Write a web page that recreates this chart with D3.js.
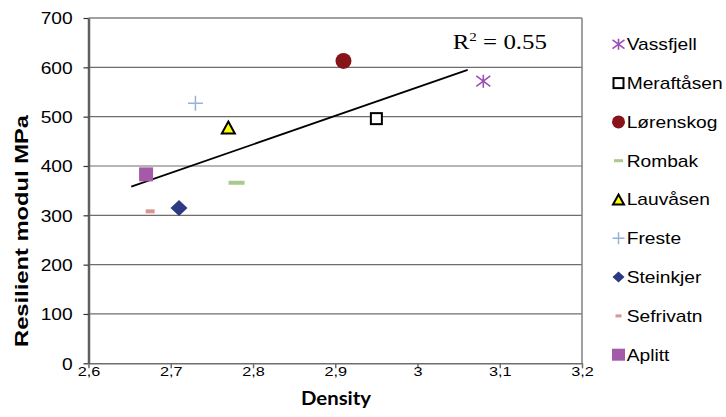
<!DOCTYPE html>
<html>
<head>
<meta charset="utf-8">
<script src="https://cdn.jsdelivr.net/npm/d3@7"></script>
<style>
  body { margin: 0; background: #fff; }
  svg { display: block; }
</style>
</head>
<body>
<svg id="chart" width="726" height="417"></svg>
<script>
// data
const sites = ['Vassfjell', 'Meraftåsen', 'Lørenskog', 'Rombak', 'Lauvåsen', 'Freste', 'Steinkjer', 'Sefrivatn', 'Aplitt']
const density = [3.08, 2.95, 2.91, 2.78, 2.77, 2.73, 2.71, 2.675, 2.67]
const modulus = [572, 496, 613, 366, 478, 527, 315, 308, 383]
const trendDensity = [2.652, 3.061]
const trendModulus = [358, 595]
const rSquared = '0.55'
const xTicks = [2.6, 2.7, 2.8, 2.9, 3.0, 3.1, 3.2]
const yTicks = [0, 100, 200, 300, 400, 500, 600, 700]

// marker look for each site (same order as sites)
const markers = [
  { kind: 'star', stroke: '#9b4fb5', w: 14, h: 13, lw: 12, lh: 11 },
  { kind: 'rect', fill: '#fff', stroke: '#000', w: 11, h: 11, lw: 10, lh: 10 },
  { kind: 'circle', fill: '#861418', w: 16, h: 16, lw: 13, lh: 13 },
  { kind: 'rect', fill: '#a9c98d', w: 16, h: 4, lw: 9, lh: 3 },
  { kind: 'tri', fill: '#ffff00', stroke: '#000', w: 13, h: 12, lw: 11, lh: 10 },
  { kind: 'plus', stroke: '#95b3d7', w: 15, h: 15, lw: 12, lh: 12 },
  { kind: 'diamond', fill: '#2b3a83', w: 17, h: 16, lw: 12, lh: 11 },
  { kind: 'rect', fill: '#d99594', w: 9, h: 4, lw: 6, lh: 3 },
  { kind: 'rect', fill: '#a45aa8', w: 14, h: 14, lw: 13, lh: 12 }
]

const svg = d3.select('#chart')
const margin = { left: 88.5, right: 582, top: 18, bottom: 363.3 }

const x = d3.scaleLinear().domain([2.6, 3.2]).range([margin.left, margin.right])
const y = d3.scaleLinear().domain([0, 700]).range([margin.bottom, margin.top])

const sans = 'Liberation Sans, Arial, sans-serif'

// horizontally stretched text, the picture is wider than tall
function stext (parent, px, py, str, o) {
  return parent.append('text')
    .attr('transform', `translate(${px},${py}) scale(${o.sx || 1.2},1)`)
    .attr('text-anchor', o.anchor || 'start')
    .attr('font-family', o.family || sans)
    .attr('font-size', o.size || 16)
    .attr('font-weight', o.weight || 'normal')
    .attr('fill', '#000')
    .text(str)
}

function drawMarker (g, m, w, h) {
  const sw = w / 2
  const sh = h / 2
  if (m.kind === 'circle') {
    g.append('ellipse').attr('rx', sw).attr('ry', sh).attr('fill', m.fill)
  } else if (m.kind === 'rect') {
    g.append('rect').attr('x', -sw).attr('y', -sh).attr('width', w).attr('height', h)
      .attr('fill', m.fill).attr('stroke', m.stroke || 'none').attr('stroke-width', 2)
  } else if (m.kind === 'tri') {
    g.append('path').attr('d', `M0,${-sh}L${sw},${sh}L${-sw},${sh}Z`)
      .attr('fill', m.fill).attr('stroke', m.stroke).attr('stroke-width', 2).attr('stroke-linejoin', 'miter')
  } else if (m.kind === 'diamond') {
    g.append('path').attr('d', `M0,${-sh}L${sw},0L0,${sh}L${-sw},0Z`).attr('fill', m.fill)
  } else if (m.kind === 'plus') {
    g.append('path').attr('d', `M${-sw},0H${sw}M0,${-sh}V${sh}`)
      .attr('stroke', m.stroke).attr('stroke-width', 1.5).attr('fill', 'none')
  } else if (m.kind === 'star') {
    g.append('path').attr('d', `M${-sw},${-sh * 0.8}L${sw},${sh * 0.8}M${-sw},${sh * 0.8}L${sw},${-sh * 0.8}M0,${-sh}V${sh}`)
      .attr('stroke', m.stroke).attr('stroke-width', 1.6).attr('fill', 'none')
  }
}

// gridlines
svg.append('g')
  .selectAll('line')
  .data(yTicks.filter(d => d > 0))
  .join('line')
  .attr('x1', margin.left)
  .attr('x2', margin.right)
  .attr('y1', d => y(d))
  .attr('y2', d => y(d))
  .attr('stroke', d => d === 700 ? '#808080' : '#6e6e6e')
  .attr('stroke-width', d => d === 700 ? 1.5 : 1.2)

// right border
svg.append('line')
  .attr('x1', margin.right).attr('x2', margin.right)
  .attr('y1', margin.top).attr('y2', margin.bottom)
  .attr('stroke', '#808080').attr('stroke-width', 1.5)

// x axis
const xAxis = svg.append('g')
  .attr('transform', `translate(0,${margin.bottom})`)
  .call(d3.axisBottom(x).tickValues(xTicks).tickSize(5).tickSizeOuter(0)
    .tickFormat(d => String(+d.toFixed(1)).replace('.', ',')))
xAxis.select('.domain').attr('stroke', '#6e6e6e').attr('stroke-width', 1.5)
xAxis.selectAll('.tick line').attr('stroke', '#6e6e6e').attr('stroke-width', 1.5)
xAxis.selectAll('.tick text')
  .attr('font-family', sans).attr('font-size', 12.5).attr('fill', '#000')
  .attr('y', 12.4).attr('dy', 0)
  .attr('transform', 'scale(1.3,1)')
  .attr('x', 0)

// y axis
const yAxis = svg.append('g')
  .attr('transform', `translate(${margin.left},0)`)
  .call(d3.axisLeft(y).tickValues(yTicks).tickSize(5).tickSizeOuter(0).tickFormat(d3.format('d')))
yAxis.select('.domain').attr('stroke', '#5f5f5f').attr('stroke-width', 2.5)
yAxis.selectAll('.tick line').attr('stroke', '#333').attr('stroke-width', 1.2)
yAxis.selectAll('.tick text')
  .attr('font-family', sans).attr('font-size', 16).attr('fill', '#000')
  .attr('x', -13.2).attr('dy', '0.36em')
  .attr('transform', 'scale(1.2,1)')

// axis titles
svg.append('text')
  .attr('transform', `translate(28.3,${(115 + 347) / 2}) rotate(-90)`)
  .attr('text-anchor', 'middle')
  .attr('font-family', sans)
  .attr('font-weight', 'bold')
  .attr('font-size', 18)
  .attr('textLength', 232)
  .attr('lengthAdjust', 'spacingAndGlyphs')
  .text('Resilient modul  MPa')

svg.append('text')
  .attr('x', 336).attr('y', 405)
  .attr('text-anchor', 'middle')
  .attr('font-family', 'Lato, Open Sans, sans-serif')
  .attr('font-weight', 'bold')
  .attr('font-size', 18)
  .attr('textLength', 70)
  .attr('lengthAdjust', 'spacingAndGlyphs')
  .text('Density')

// trend line
svg.append('path')
  .datum(trendDensity.map((d, i) => [d, trendModulus[i]]))
  .attr('d', d3.line().x(d => x(d[0])).y(d => y(d[1])))
  .attr('stroke', '#000').attr('stroke-width', 1.8).attr('fill', 'none')

// R² label
const rt = svg.append('text')
  .attr('transform', 'translate(452.7,49.3) scale(1.16,1)')
  .attr('font-family', 'Liberation Serif, Times New Roman, serif')
  .attr('font-size', 21.5)
  .attr('fill', '#000')
rt.append('tspan').text('R')
rt.append('tspan').attr('font-size', 13).attr('dy', -8.5).text('2')
rt.append('tspan').attr('dy', 8.5).text(' = ' + rSquared)

// points
sites.forEach((s, i) => {
  const g = svg.append('g').attr('transform', `translate(${x(density[i])},${y(modulus[i])})`)
  drawMarker(g, markers[i], markers[i].w, markers[i].h)
})

// legend
const legendTop = 44.3
const legendStep = 38.8
sites.forEach((s, i) => {
  const cy = legendTop + i * legendStep
  const g = svg.append('g').attr('transform', `translate(618.5,${cy})`)
  drawMarker(g, markers[i], markers[i].lw, markers[i].lh)
  stext(svg, 626.7, cy + 5.8, s, { size: 16 })
})
</script>
</body>
</html>
